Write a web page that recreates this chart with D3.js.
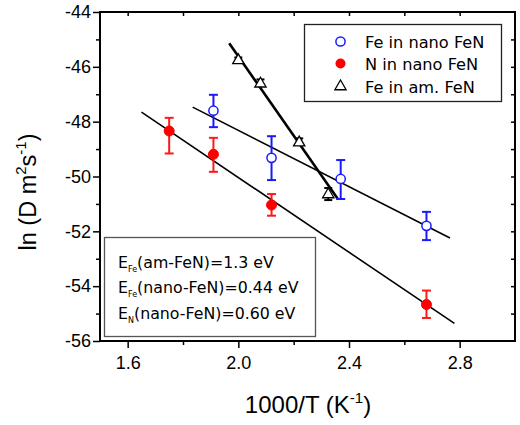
<!DOCTYPE html>
<html><head><meta charset="utf-8">
<script src="https://cdn.jsdelivr.net/npm/d3@7"></script>
<style>body{margin:0;background:#fff}svg{display:block}</style>
</head><body>
<svg id="c" width="520" height="425"></svg>
<script>
// ---- data ----
const xDomain = [1.5, 3.0];
const yDomain = [-56, -44];
const xTickLabels = [1.6, 2.0, 2.4, 2.8];
const yTickLabels = [-56, -54, -52, -50, -48, -46, -44];

// Fe in nano FeN (open blue circles)
const feNanoX   = [1.91, 2.12, 2.37, 2.68];
const feNanoY   = [-47.60, -49.32, -50.09, -51.80];
const feNanoLo  = [-48.20, -50.13, -50.82, -52.32];
const feNanoHi  = [-47.02, -48.53, -49.40, -51.29];
const feNanoFitX = [1.835, 2.765];
const feNanoFitY = [-47.47, -52.24];

// N in nano FeN (filled red circles)
const nNanoX   = [1.75, 1.91, 2.12, 2.68];
const nNanoY   = [-48.34, -49.19, -51.04, -54.67];
const nNanoLo  = [-49.16, -49.83, -51.43, -55.16];
const nNanoHi  = [-47.86, -48.59, -50.64, -54.16];
const nNanoFitX = [1.650, 2.781];
const nNanoFitY = [-47.65, -55.36];

// Fe in am. FeN (open triangles)
const feAmX  = [2.00, 2.08, 2.22, 2.325];
const feAmY  = [-45.73, -46.58, -48.73, -50.62];
const feAmLo = [-45.80, -46.70, -48.85, -50.86];
const feAmHi = [-45.66, -46.46, -48.61, -50.42];
const feAmFitX = [1.967, 2.361];
const feAmFitY = [-45.14, -50.84];

const legendLabels = ["Fe in nano FeN", "N in nano FeN", "Fe in am. FeN"];
const annoMain = ["E", "E", "E"];
const annoSub  = ["Fe", "Fe", "N"];
const annoRest = ["(am-FeN)=1.3 eV", "(nano-FeN)=0.44 eV", "(nano-FeN)=0.60 eV"];

// ---- layout ----
const L = 100, R = 515, T = 12, B = 341;
const svg = d3.select("#c");
const x = d3.scaleLinear().domain(xDomain).range([L, R]);
const y = d3.scaleLinear().domain(yDomain).range([B, T]);
const tickFont = "'Liberation Sans', Arial, sans-serif";
const boxFont = "'DejaVu Sans', Verdana, sans-serif";
const hyph = f => (d => f(d).replace("\u2212", "-"));

const xMinor = d3.range(16, 30, 2).map(v => v / 10);
const yMinor = d3.range(-55, -44, 2);

// bottom axis (outward)
svg.append("g").attr("transform", `translate(0,${B})`)
  .call(d3.axisBottom(x).tickValues(xTickLabels).tickSize(7).tickFormat(d3.format(".1f")))
  .call(g => g.select(".domain").remove())
  .call(g => g.selectAll("line").attr("stroke-width", 1.5))
  .call(g => g.selectAll("text").attr("font-family", tickFont).attr("font-size", 18).attr("dy", "1.0em").attr("fill", "#000"));
svg.append("g").attr("transform", `translate(0,${B})`)
  .call(d3.axisBottom(x).tickValues(xMinor.filter(v => !xTickLabels.some(t => Math.abs(t - v) < 1e-6))).tickSize(4).tickFormat(""))
  .call(g => g.select(".domain").remove())
  .call(g => g.selectAll("line").attr("stroke-width", 1.5));

// left axis (outward)
svg.append("g").attr("transform", `translate(${L},0)`)
  .call(d3.axisLeft(y).tickValues(yTickLabels).tickSize(7).tickFormat(hyph(d3.format("d"))))
  .call(g => g.select(".domain").remove())
  .call(g => g.selectAll("line").attr("stroke-width", 1.5))
  .call(g => g.selectAll("text").attr("font-family", tickFont).attr("font-size", 18).attr("fill", "#000").attr("x", -9));
svg.append("g").attr("transform", `translate(${L},0)`)
  .call(d3.axisLeft(y).tickValues(yMinor).tickSize(4).tickFormat(""))
  .call(g => g.select(".domain").remove())
  .call(g => g.selectAll("line").attr("stroke-width", 1.5));

// top axis (inward)
svg.append("g").attr("transform", `translate(0,${T})`)
  .call(d3.axisTop(x).tickValues(xMinor).tickSize(-4).tickFormat(""))
  .call(g => g.select(".domain").remove())
  .call(g => g.selectAll("line").attr("stroke-width", 1.5));
// right axis (inward)
svg.append("g").attr("transform", `translate(${R},0)`)
  .call(d3.axisRight(y).tickValues(d3.range(-55, -44, 1)).tickSize(-4).tickFormat(""))
  .call(g => g.select(".domain").remove())
  .call(g => g.selectAll("line").attr("stroke-width", 1.5));

// frame
svg.append("rect").attr("x", L).attr("y", T).attr("width", R - L).attr("height", B - T)
  .attr("fill", "none").attr("stroke", "#000").attr("stroke-width", 2);

// fit lines
function fit(xs, ys, w) {
  svg.append("line").attr("x1", x(xs[0])).attr("y1", y(ys[0])).attr("x2", x(xs[1])).attr("y2", y(ys[1]))
    .attr("stroke", "#000").attr("stroke-width", w);
}
fit(feNanoFitX, feNanoFitY, 1.6);
fit(nNanoFitX, nNanoFitY, 1.6);
fit(feAmFitX, feAmFitY, 2.6);

// error bars
function errs(xs, lo, hi, color, cap) {
  const g = svg.append("g").attr("stroke", color).attr("stroke-width", 2);
  xs.forEach((xv, i) => {
    const cx = x(xv);
    g.append("line").attr("x1", cx).attr("x2", cx).attr("y1", y(lo[i])).attr("y2", y(hi[i]));
    g.append("line").attr("x1", cx - cap).attr("x2", cx + cap).attr("y1", y(lo[i])).attr("y2", y(lo[i]));
    g.append("line").attr("x1", cx - cap).attr("x2", cx + cap).attr("y1", y(hi[i])).attr("y2", y(hi[i]));
  });
}
errs(feNanoX, feNanoLo, feNanoHi, "#1a1aff", 4.5);
errs(nNanoX, nNanoLo, nNanoHi, "#ff1a1a", 4.5);
errs(feAmX, feAmLo, feAmHi, "#000", 4);

// markers
const blue = "#1a1aff", red = "#ff0000";
svg.append("g").selectAll("circle").data(feNanoX).join("circle")
  .attr("cx", d => x(d)).attr("cy", (d, i) => y(feNanoY[i])).attr("r", 4.6)
  .attr("fill", "#fff").attr("stroke", blue).attr("stroke-width", 1.5);
svg.append("g").selectAll("circle").data(nNanoX).join("circle")
  .attr("cx", d => x(d)).attr("cy", (d, i) => y(nNanoY[i])).attr("r", 5)
  .attr("fill", red).attr("stroke", red).attr("stroke-width", 1);
const tri = d3.symbol().type(d3.symbolTriangle).size(55);
svg.append("g").selectAll("path").data(feAmX).join("path")
  .attr("d", tri).attr("transform", (d, i) => `translate(${x(d)},${y(feAmY[i]) + 1})`)
  .attr("fill", "#fff").attr("stroke", "#000").attr("stroke-width", 1.3);

// legend
const lg = svg.append("g");
lg.append("rect").attr("x", 304.5).attr("y", 24.5).attr("width", 197).attr("height", 77)
  .attr("fill", "#fff").attr("stroke", "#222").attr("stroke-width", 1.3);
const rowY = [41.5, 63.5, 86.5];
lg.append("circle").attr("cx", 340.5).attr("cy", rowY[0]).attr("r", 4.6).attr("fill", "#fff").attr("stroke", blue).attr("stroke-width", 1.5);
lg.append("circle").attr("cx", 340.5).attr("cy", rowY[1]).attr("r", 5).attr("fill", red);
lg.append("path").attr("d", tri).attr("transform", `translate(340.5,${rowY[2]})`).attr("fill", "#fff").attr("stroke", "#000").attr("stroke-width", 1.3);
legendLabels.forEach((t, i) => {
  lg.append("text").attr("x", 365).attr("y", rowY[i] + 6).attr("font-family", boxFont).attr("font-size", 16.2)
    .attr("fill", "#000").text(t);
});

// annotation box
const ab = svg.append("g");
ab.append("rect").attr("x", 104.5).attr("y", 237.5).attr("width", 211).attr("height", 99)
  .attr("fill", "#fff").attr("stroke", "#555").attr("stroke-width", 1.3);
const annoY = [267.5, 293, 318.5];
annoMain.forEach((m, i) => {
  const t = ab.append("text").attr("x", 118).attr("y", annoY[i]).attr("font-family", boxFont).attr("font-size", 15.8).attr("fill", "#000");
  t.append("tspan").text(m);
  t.append("tspan").attr("font-size", 8).attr("dy", 4).text(annoSub[i]);
  t.append("tspan").attr("dy", -4).text(annoRest[i]);
});

// axis titles
const xt = svg.append("text").attr("x", 308).attr("y", 413).attr("text-anchor", "middle")
  .attr("font-family", tickFont).attr("font-size", 24).attr("fill", "#000");
xt.append("tspan").text("1000/T (K");
xt.append("tspan").attr("font-size", 15).attr("dy", -10).text("-1");
xt.append("tspan").attr("dy", 10).text(")");

const yt = svg.append("text").attr("transform", "translate(36,192) rotate(-90)").attr("text-anchor", "middle")
  .attr("font-family", tickFont).attr("font-size", 23.5).attr("fill", "#000");
yt.append("tspan").text("ln (D m");
yt.append("tspan").attr("font-size", 15).attr("dy", -10).text("2");
yt.append("tspan").attr("dy", 10).text("s");
yt.append("tspan").attr("font-size", 15).attr("dy", -10).text("-1");
yt.append("tspan").attr("dy", 10).text(")");
</script>
</body></html>
